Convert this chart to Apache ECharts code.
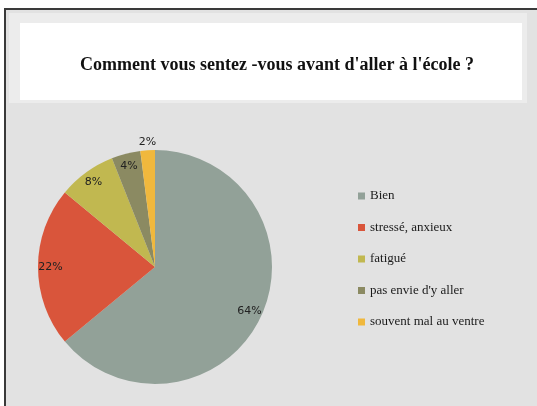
<!DOCTYPE html>
<html>
<head>
<meta charset="utf-8">
<script src="https://cdn.jsdelivr.net/npm/echarts@6/dist/echarts.min.js"></script>
<style>
  html, body { margin: 0; padding: 0; background: #fff; }
  #pie { width: 537px; height: 406px; }
</style>
</head>
<body>
<div id="pie"></div>
<script>
var titre = "Comment vous sentez -vous avant d'aller à l'école ?";
var categories = ['Bien', 'stressé, anxieux', 'fatigué', "pas envie d'y aller", 'souvent mal au ventre'];
var values = [64, 22, 8, 4, 2];

var pie = echarts.init(document.getElementById('pie'));

var labelData = categories.map(function (name, i) {
    var item = {name: name, value: values[i]};
    if (i === categories.length - 1) {
        // la petite part : étiquette au-dessus du camembert
        item.label = {position: 'outside'};
        item.labelLine = {show: false, length: 8, length2: -14};
    }
    return item;
});

var option = {
    color: ['#92a198', '#d9553b', '#c1b850', '#8b8a62', '#f0b83d'],
    animation: false,
    graphic: [
        {type: 'rect', shape: {x: 5, y: 9, width: 540, height: 410}, style: {fill: '#e2e2e2', stroke: '#3a3a3a', lineWidth: 2}, silent: true},
        {type: 'rect', shape: {x: 9, y: 13, width: 518, height: 90}, style: {fill: '#ececec'}, silent: true},
        {type: 'rect', shape: {x: 20, y: 23, width: 502, height: 77}, style: {fill: '#ffffff'}, silent: true},
        {
            type: 'text',
            x: 277,
            y: 65,
            style: {
                text: titre,
                align: 'center',
                verticalAlign: 'middle',
                fontFamily: 'Liberation Serif',
                fontSize: 18,
                fontWeight: 'bold',
                fill: '#111'
            }
        }
    ],
    legend: {
        orient: 'vertical',
        left: 358,
        top: 189,
        padding: 0,
        icon: 'rect',
        itemWidth: 7,
        itemHeight: 7,
        itemGap: 17.5,
        selectedMode: false,
        data: categories,
        textStyle: {
            fontFamily: 'Liberation Serif',
            fontSize: 13,
            lineHeight: 14,
            color: '#1a1a1a'
        }
    },
    series: [
        {
            name: 'ressenti',
            type: 'pie',
            center: [155, 267],
            radius: [0, 117],
            startAngle: 90,
            avoidLabelOverlap: false,
            label: {show: false},
            labelLine: {show: false},
            emphasis: {disabled: true},
            data: categories.map(function (name, i) {
                return {name: name, value: values[i]};
            })
        },
        {
            // anneau transparent qui porte seulement les étiquettes
            name: 'etiquettes',
            type: 'pie',
            center: [155, 267],
            radius: [86, 117],
            startAngle: 90,
            silent: true,
            avoidLabelOverlap: false,
            itemStyle: {color: 'transparent'},
            label: {
                show: true,
                position: 'inside',
                formatter: '{c}%',
                fontFamily: 'DejaVu Sans',
                fontSize: 11,
                color: '#222'
            },
            labelLine: {show: false},
            data: labelData
        }
    ]
};
pie.setOption(option);
</script>
</body>
</html>
